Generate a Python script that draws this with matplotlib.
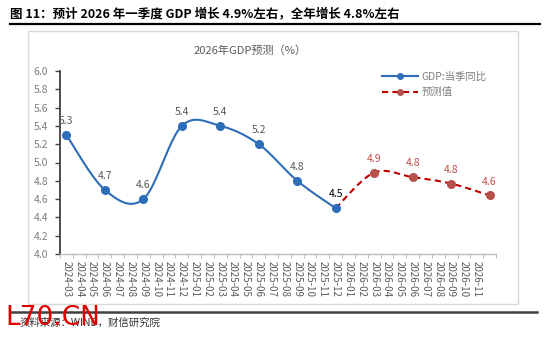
import numpy as np
import matplotlib
matplotlib.use("Agg")
import matplotlib.pyplot as plt
from matplotlib.lines import Line2D
from matplotlib.patches import Rectangle

plt.rcParams['font.family'] = ['Noto Sans CJK SC', 'DejaVu Sans']

# ---- data ----
months = ["2024-03", "2024-04", "2024-05", "2024-06", "2024-07", "2024-08", "2024-09",
          "2024-10", "2024-11", "2024-12", "2025-01", "2025-02", "2025-03", "2025-04",
          "2025-05", "2025-06", "2025-07", "2025-08", "2025-09", "2025-10", "2025-11",
          "2025-12", "2026-01", "2026-02", "2026-03", "2026-04", "2026-05", "2026-06",
          "2026-07", "2026-08", "2026-09", "2026-10", "2026-11", "2026-12"]
tick_labels = months[:-1] + [""]

gdp_months = ["2024-03", "2024-06", "2024-09", "2024-12", "2025-03", "2025-06", "2025-09", "2025-12"]
gdp_values = [5.3, 4.7, 4.6, 5.4, 5.4, 5.2, 4.8, 4.5]

fc_months = ["2025-12", "2026-03", "2026-06", "2026-09", "2026-12"]
fc_values = [4.5, 4.89, 4.84, 4.77, 4.64]

title = "图 11：预计 2026 年一季度 GDP 增长 4.9%左右，全年增长 4.8%左右"
chart_title = "2026年GDP预测（%）"
legend_labels = ["GDP:当季同比", "预测值"]
source = "资料来源：WIND，财信研究院"

# ---- helpers ----
def smooth(xs, ys, n=40):
    P = np.column_stack([xs, ys]).astype(float)
    m = len(P)
    out = []
    for i in range(m - 1):
        p0 = P[i - 1] if i > 0 else P[i]
        p1 = P[i]
        p2 = P[i + 1]
        p3 = P[i + 2] if i + 2 < m else P[i + 1]
        c1 = p1 + (p2 - p0) / 6.0
        c2 = p2 - (p3 - p1) / 6.0
        t = np.linspace(0, 1, n)[:, None]
        seg = ((1 - t) ** 3) * p1 + 3 * ((1 - t) ** 2) * t * c1 + 3 * (1 - t) * t ** 2 * c2 + t ** 3 * p2
        out.append(seg if i == 0 else seg[1:])
    s = np.vstack(out)
    return s[:, 0], s[:, 1]

W, H = 550, 338
fig = plt.figure(figsize=(W / 100, H / 100), dpi=100)

def fx(px):
    return px / W

def fy(py):
    return 1 - py / H

# header
fig.text(fx(10), fy(14), title, fontsize=9, fontweight='bold', va='center', ha='left', color='#000000')
fig.add_artist(Line2D([fx(10), fx(540)], [fy(24), fy(24)], color='#000000', lw=1.6))
# chart box
fig.add_artist(Rectangle((fx(28), fy(304)), fx(518) - fx(28), fy(31) - fy(304),
                         fill=False, edgecolor='#d9d9d9', lw=1.0))
fig.text(fx(250), fy(51), chart_title, fontsize=8, color='#595959', ha='center', va='center')

# axes
ax = fig.add_axes([fx(60), fy(254), fx(496) - fx(60), fy(71) - fy(254)])
ax.set_facecolor('none')
ax.set_ylim(4.0, 6.0)
ax.set_xlim(-0.5, len(months) - 0.5)

xg = [months.index(m) for m in gdp_months]
xf = [months.index(m) for m in fc_months]

blue = '#2E6DB8'
red_line = '#C00000'
red_mk = '#B5504B'

sx, sy = smooth(xg, gdp_values)
ax.plot(sx, sy, color=blue, lw=1.5, solid_capstyle='round')
ax.plot(xg, gdp_values, 'o', color=blue, ms=5.5, zorder=4)

fxs, fys = smooth(xf, fc_values)
ax.plot(fxs, fys, color=red_line, lw=1.5, ls=(0, (3, 2)))
ax.plot(xf[1:], fc_values[1:], 'o', color=red_mk, ms=5.5, zorder=4)

for x, v in zip(xg, gdp_values):
    c = '#000000' if x == xg[-1] else '#595959'
    ax.annotate(f"{v:.1f}", (x, v), xytext=(0, 10), textcoords='offset points',
                ha='center', va='center', fontsize=7.5, color=c)
for x, v in zip(xf[1:], fc_values[1:]):
    ax.annotate(f"{v:.1f}", (x, v), xytext=(0, 10), textcoords='offset points',
                ha='center', va='center', fontsize=7.5, color='#C0504D')

# spines / ticks
for s in ['top', 'right']:
    ax.spines[s].set_visible(False)
ax.spines['left'].set_color('#404040')
ax.spines['left'].set_linewidth(1.3)
ax.spines['bottom'].set_color('#bfbfbf')
ax.spines['bottom'].set_linewidth(1.0)

ax.set_yticks(np.arange(4.0, 6.01, 0.2))
ax.set_yticklabels([f"{v:.1f}" for v in np.arange(4.0, 6.01, 0.2)])
ax.tick_params(axis='y', direction='out', length=3.5, width=1.0, color='#404040',
               labelcolor='#7f7f7f', labelsize=7.5, pad=5)

ax.set_xticks(range(len(months)))
ax.set_xticklabels(tick_labels, rotation=-90, fontsize=7, color='#595959')
ax.tick_params(axis='x', which='major', length=0, pad=5)
ax.set_xticks(np.arange(-0.5, len(months), 1.0), minor=True)
ax.tick_params(axis='x', which='minor', direction='out', length=3, width=0.8, color='#bfbfbf')

# legend
handles = [Line2D([0], [0], color=blue, lw=1.5, marker='o', ms=4),
           Line2D([0], [0], color=red_line, lw=1.5, ls=(0, (3, 2)), marker='o', ms=4,
                  markerfacecolor=red_mk, markeredgecolor=red_mk)]
leg = ax.legend(handles, legend_labels, loc='upper left', bbox_to_anchor=(fx(378), fy(67)),
                bbox_transform=fig.transFigure, frameon=False, fontsize=7.5,
                handlelength=3.4, handletextpad=0.4, labelspacing=0.55, borderaxespad=0)
for t in leg.get_texts():
    t.set_color('#7f7f7f')

# footer
fig.add_artist(Line2D([fx(10), fx(537)], [fy(312), fy(312)], color='#404040', lw=1.8))
fig.text(fx(20), fy(323), source, fontsize=7.5, style='italic', color='#333333', va='center', ha='left')
fig.text(fx(5), fy(318), "L70.CN", fontsize=19, color='#E00000', va='center', ha='left',
         family='DejaVu Sans', zorder=10)

fig.savefig("out.png", dpi=100)
